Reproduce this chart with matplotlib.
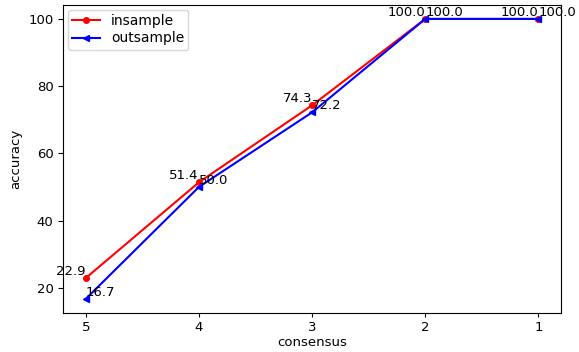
import matplotlib
matplotlib.use('Agg')
import matplotlib.pyplot as plt

matplotlib.rcParams['font.size'] = 9.5

# Data
consensus = ['5', '4', '3', '2', '1']
insample = [22.9, 51.4, 74.3, 100.0, 100.0]
outsample = [16.7, 50.0, 72.2, 100.0, 100.0]

fig, ax = plt.subplots(figsize=(5.79, 3.52), dpi=100)
fig.subplots_adjust(left=0.109, right=0.969, top=0.986, bottom=0.111)

ax.plot(consensus, insample, color='red', marker='o', markersize=4, label='insample')
ax.plot(consensus, outsample, color='blue', marker='<', markersize=4, label='outsample')

# Value labels
for c, v in zip(consensus, insample):
    ax.text(c, v, str(v), ha='right', va='bottom')
for c, v in zip(consensus, outsample):
    ax.text(c, v, str(v), ha='left', va='bottom')

ax.tick_params(axis='x', length=3, pad=2.5)
ax.set_xlabel('consensus', labelpad=1.5)
ax.set_ylabel('accuracy')
ax.legend(loc='upper left', fontsize=10, labelspacing=0.25, borderpad=0.3,
          borderaxespad=0.35)

plt.savefig('out.png')
